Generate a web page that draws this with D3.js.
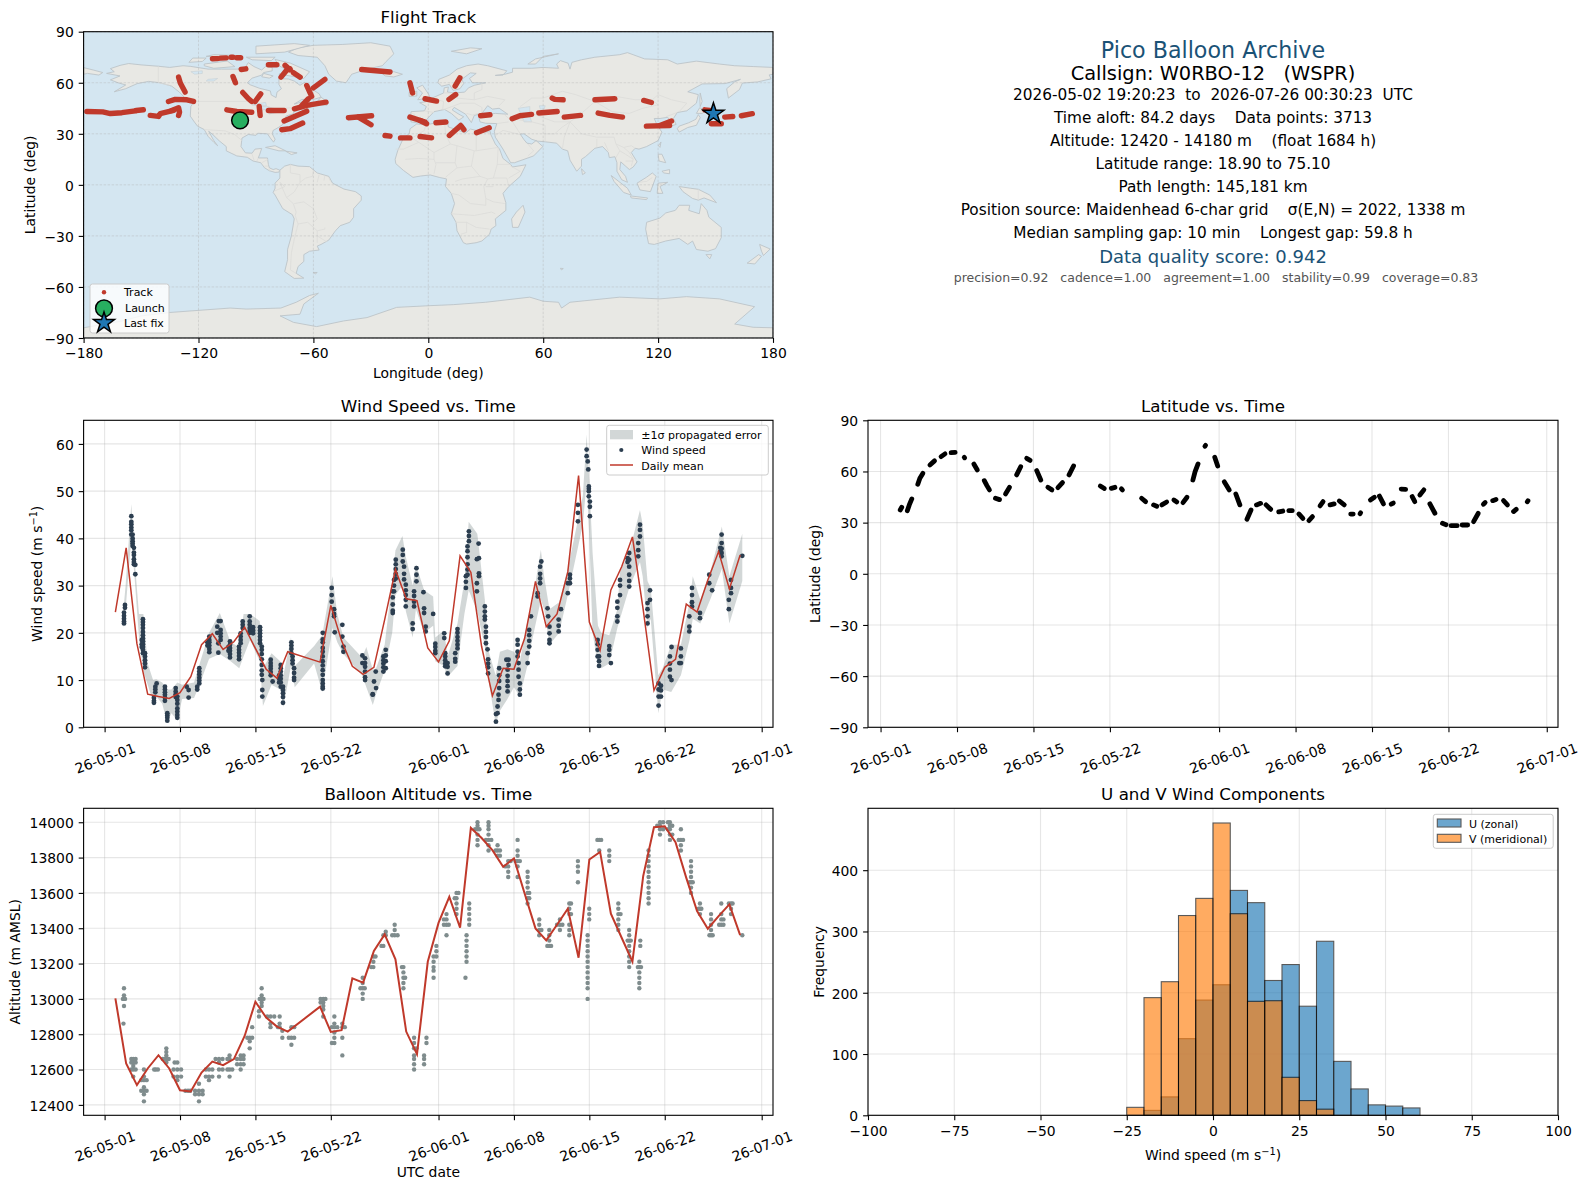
<!DOCTYPE html>
<html>
<head>
<meta charset="utf-8">
<script src="https://cdn.jsdelivr.net/npm/d3@7"></script>
<style>
	html, body { margin:0; padding:0; background:#fff; }
	svg { display:block; font-family:"DejaVu Sans", sans-serif; }
	text { white-space:pre; }
</style>
</head>
<body>
<div id="chart"></div>
<script>
//---- text ----
var infoLines = [
	'Pico Balloon Archive',
	'Callsign: W0RBO-12   (WSPR)',
	'2026-05-02 19:20:23  to  2026-07-26 00:30:23  UTC',
	'Time aloft: 84.2 days    Data points: 3713',
	'Altitude: 12420 - 14180 m    (float 1684 h)',
	'Latitude range: 18.90 to 75.10',
	'Path length: 145,181 km',
	'Position source: Maidenhead 6-char grid    σ(E,N) = 2022, 1338 m',
	'Median sampling gap: 10 min    Longest gap: 59.8 h',
	'Data quality score: 0.942',
	'precision=0.92   cadence=1.00   agreement=1.00   stability=0.99   coverage=0.83'
];
var dateTicks = ['2026-05-01','2026-05-08','2026-05-15','2026-05-22','2026-06-01','2026-06-08','2026-06-15','2026-06-22','2026-07-01'];
var lonTicks = [-180,-120,-60,0,60,120,180];
var latTicks = [-90,-60,-30,0,30,60,90];
var windTicks = [0,10,20,30,40,50,60];
var altTicks = [12400,12600,12800,13000,13200,13400,13600,13800,14000];
var histXTicks = [-100,-75,-50,-25,0,25,50,75,100];
var histYTicks = [0,100,200,300,400];

//---- map outlines, lon/lat ----
var landShapes = [
	// North and Central America
	[[-168,65.5],[-164,66.5],[-166,68.3],[-161,70.2],[-156.5,71.3],[-150,70.5],[-141,69.7],[-135,69],[-128,70],[-124,69.6],[-115,68],[-108,68],[-100,68],[-96,68.3],[-94,71.8],[-91,69.5],[-87,67.5],[-85,69.5],[-81.5,69],[-81.5,67],[-86,66],[-87,64.5],[-92,62.7],[-94.5,60],[-93,58.8],[-88,56.7],[-82.5,55.2],[-82,52.8],[-79.5,51.3],[-79,54.5],[-76.7,56.5],[-78,59],[-78,62.4],[-73,62.2],[-70,61],[-67,58.5],[-64.5,60.3],[-61.5,56.8],[-57,53.5],[-56,51.5],[-60,50.2],[-66,50.2],[-70,47.5],[-65,49],[-64.5,47],[-61,46],[-64,44.5],[-66.5,44.5],[-70,43.7],[-70.5,41.7],[-74,40.6],[-75.5,38],[-76,35.5],[-78,33.9],[-81,32],[-81.5,30],[-80,26.8],[-80.8,25.1],[-82.5,27.5],[-84,30],[-89,30.3],[-90,29.1],[-94,29.6],[-97.3,27.5],[-97.8,22.5],[-95.5,18.8],[-92,18.6],[-90.5,21],[-87,21.4],[-88,18],[-88.8,15.8],[-84,15.8],[-83.5,12],[-83,10],[-81,9],[-79.5,9.5],[-77.5,8.6],[-78,7.5],[-80,7.3],[-83,8.3],[-85.5,10],[-87.5,13],[-91.5,14],[-94.5,16.2],[-100,17],[-105.5,20],[-105.5,22.5],[-109,25.7],[-112.5,29.5],[-114.7,31.5],[-112,26],[-110,23],[-112,25],[-115,28.5],[-117,32.5],[-120.5,34.5],[-122.5,37.5],[-124.3,40.4],[-124,46],[-122.5,48.5],[-127,51],[-130,54.5],[-134,58],[-140,60],[-146,60.8],[-152,59.5],[-158,56.5],[-164,54.7],[-158,58.7],[-162,60],[-166,61.7],[-161,64]],
	// South America
	[[-77.5,8.6],[-75,11],[-72,12],[-68,11],[-62,10.7],[-58,7],[-52,5],[-50,1],[-44,-2.5],[-38,-4],[-35,-6.5],[-35,-9],[-39,-14],[-39,-19],[-41,-22],[-46,-24],[-48.5,-27],[-52,-32.5],[-56,-35],[-58,-36],[-57,-38.3],[-62,-39],[-65,-41],[-65,-45],[-68,-48],[-69,-52],[-65,-54.8],[-70,-55],[-75,-51],[-73.5,-44],[-73.5,-38],[-71.5,-30],[-70,-20],[-71,-17.5],[-76,-14],[-80,-6],[-81,-4.5],[-80,-2],[-80,1],[-77.5,4]],
	// Africa
	[[-6,35.8],[-1,35.2],[5,36.8],[10,37.3],[10.5,34],[15,32.3],[19.5,30.5],[22,32.8],[29,31],[32.5,31.2],[32.5,29.9],[35,24],[37.2,21],[39,15.5],[43,12],[44,10.5],[51,11.8],[48,5],[42,-1],[39,-5],[40.5,-10.5],[40.5,-15],[35,-20],[35.3,-24],[32.8,-26],[32,-29],[28,-33],[25,-34],[20,-34.8],[18.3,-34],[15,-27],[14.5,-22],[12,-17],[13.7,-11],[12,-5],[9,-1],[9.5,3.5],[6,4.3],[1,5.8],[-4,5.2],[-8,4.4],[-13,8.5],[-17,12.5],[-17.3,15],[-16,20],[-13,27.5],[-10,30],[-9.5,33]],
	// Eurasia
	[[-9,37],[-9.3,39],[-9,43],[-2,43.5],[-1,46],[-4.5,48.3],[-1.5,48.8],[2,51],[4,52],[8,54],[8.3,57],[10.5,57.5],[10,54.5],[14,54],[19,54.5],[21,57],[24,58.5],[30,60],[23,60],[21.5,62.5],[25,65.5],[22,65.8],[17.5,62],[18.5,59.5],[16.5,56.5],[13,55.5],[11,59],[7,58],[5,60],[5.5,62],[11,64.5],[15,68],[20,70],[26,71],[31,70],[41,67],[39,64.5],[35,64.3],[40,65],[44,66.2],[44,68.5],[54,68.5],[60,69],[68,68.5],[67,71],[69,73],[73,71.5],[74,68],[75,72],[80,73.5],[87,75],[100,76.5],[104,77.7],[113,74],[125,73.5],[130,71],[140,72.7],[152,71],[160,70],[170,69.5],[180,69],[180,65],[178,64.6],[179,62.3],[172,60.5],[164,59.8],[162.5,56],[156.7,51],[155.8,56.5],[160,60.5],[163,62],[155,59.5],[143,59.3],[135.5,54.7],[141,53],[140,48],[135,43.5],[130,42.5],[128,39],[129.4,35.5],[126.5,34.5],[126.5,37.5],[125,39.7],[121,39],[118,39],[119.5,35],[122,31],[120,26],[114,22.5],[110,21],[108,21.5],[106,19],[109,13.5],[107,10.5],[105,9],[103,11],[100.5,13.5],[100,9],[103,5],[104,1.5],[101,3],[98.5,8],[98.5,13],[97.5,16.5],[94.5,16],[94,19],[91,22.5],[87,21.5],[82,16.5],[80,15],[80,11],[77.5,8],[74,14.5],[72.8,20],[70,21],[67,24.5],[61,25.3],[57,25.7],[54,26.8],[50,30],[48,29.8],[50,26.5],[51.5,24.5],[54,24],[56.3,26],[59.8,22.5],[55,17],[45,13],[43,13],[39,21],[35,28],[34.5,31.5],[35.8,36],[30,36.2],[27,37],[26.5,39.5],[29,41],[35,42],[41.5,41.5],[37,45],[33.5,44.5],[31,46.5],[28,42],[24,40.8],[23,38],[22.5,36.6],[19.5,41.5],[13.5,45.5],[12.5,44],[16,41.5],[18.5,40],[16,38],[12,42],[8.5,44.3],[3,43],[0,39.5],[-2,36.8],[-6,36.5]],
	// Chukotka past the date line
	[[-180,68.9],[-175,67.5],[-170,66],[-172,64.5],[-178,65.5],[-180,65]],
	// Greenland
	[[-73,78],[-68,80.5],[-60,82],[-45,82.5],[-30,83.5],[-20,81.5],[-18,77],[-22,72.5],[-24,70],[-32,68],[-40,65],[-43,60],[-48,61],[-52,65],[-54,70],[-58,75],[-68,76]],
	// Arctic Canada
	[[-80,73.7],[-72,71.5],[-67,69],[-62,66.5],[-65,62.5],[-72,64],[-78,65],[-73,67],[-78,70]],
	[[-117,71],[-105,72.8],[-101,69.5],[-112,68.5],[-117,70]],
	[[-125,72],[-118,72.5],[-116,74.5],[-123,74.5]],
	[[-90,77],[-75,78],[-62,82],[-70,83],[-90,81.5]],
	[[-95,75],[-80,75],[-82,73],[-92,73.5]],
	[[-112,76.5],[-100,76],[-105,75],[-116,75.5]],
	[[-86,65.5],[-81,64],[-83,62.7],[-87,63.5]],
	// Atlantic islands
	[[-59,47.7],[-53,46.7],[-53,49],[-56,51.5]],
	[[-85,22],[-80,23],[-74.5,20],[-78,20]],
	[[-74.5,19.8],[-68.5,18.8],[-71.5,17.8]],
	[[-5.5,50],[1,51.3],[0,53.5],[-3,58.6],[-6,57],[-3,54]],
	[[-10,52],[-6,52.2],[-6,55],[-10,54.3]],
	[[-24,65.5],[-18,66.5],[-13.5,65],[-18,63.4],[-22.5,64]],
	[[12,78.5],[22,80.5],[28,80],[20,77]],
	[[52,71],[56,74],[68,77],[60,75.5],[56,71]],
	// East Asia, Indonesia, Pacific
	[[142,54],[143,49],[142,46],[141.8,50]],
	[[130,33],[131,31],[135.5,33.7],[140,35],[142,39.5],[141,41.3],[139.7,38.5],[136,36.5],[131,34.5]],
	[[140,42],[141.7,45.3],[145,43.5],[143,42]],
	[[120.2,23],[121.5,25.2],[121,22]],
	[[120,18],[122,18],[124,13],[120.5,14]],
	[[122,8],[126,9],[126,6.5],[123,7]],
	[[109,1],[114,4.5],[117,7],[119,5],[117.5,0.5],[116,-4],[110.5,-3]],
	[[95.5,5.5],[104,-2],[106,-6],[102,-4.5],[97,2]],
	[[105.5,-6.5],[114.5,-7.7],[114,-8.7],[106,-7.7]],
	[[119.5,-5],[120,1],[125,1.5],[121,-1],[122.5,-5]],
	[[131,-1],[137,-2],[141,-2.6],[147,-6],[150.5,-10.5],[144,-7.7],[141,-9],[138,-8],[133,-4]],
	[[114,-22],[113.5,-26],[115,-34.5],[118,-35],[124,-33],[131,-31.5],[135.5,-35],[138,-33],[140,-38],[146,-39],[150,-37.5],[153,-31],[153,-25],[146.5,-19],[145.5,-15],[142.5,-11],[141.5,-17],[136,-15],[136.5,-12],[131,-12],[129,-15],[124,-16.5],[121,-19.5]],
	[[145,-41],[148,-41],[147,-43.5]],
	[[173,-35],[178.5,-37.7],[175,-41.5],[174,-39]],
	[[172.5,-41],[174,-42],[170.5,-46.5],[166.5,-46]],
	[[49.5,-12],[50.5,-16],[47,-25],[44,-25],[43.5,-20],[46,-16]],
	[[80,9.5],[82,7],[80.5,6]],
	[[69,-49],[70.5,-49.2],[69.5,-50]],
	[[-60,-51.5],[-58,-51.5],[-59,-52.3]],
	// Antarctica
	[[-180,-84],[-160,-80],[-150,-77],[-135,-75],[-103.5,-72.4],[-95,-73],[-77,-72.4],[-69,-69],[-62,-65],[-57.4,-63.7],[-65,-70],[-67,-76],[-77.4,-77],[-70.4,-80.8],[-58.3,-83.3],[-44.3,-80],[-32,-78],[-16.5,-72],[0.9,-71],[13,-70.4],[30,-69],[53,-66],[60,-68.4],[68,-69],[69.6,-72.4],[74,-69],[100,-66],[120.9,-67],[134.8,-65.7],[152,-67],[170.4,-71.6],[160,-81.8],[169.6,-83.7],[180,-84],[180,-90],[-180,-90]]
];
var lakeShapes = [
	[[47,45],[53,46],[53,40],[54,37],[50,37],[49,40]],
	[[-92,47],[-85,48.5],[-84.5,46.5],[-88,46.5]],
	[[-87.5,46],[-84,46],[-81,45],[-83,43],[-86,44.5],[-87.5,42]],
	[[-79.5,43.5],[-76.5,44],[-79,42.5],[-83,41.7]],
	[[58,46.5],[61,46.5],[60.5,44.5],[58.5,44.5]],
	[[-124,66.5],[-118,67],[-118,65.5],[-122,65]],
	[[-115,62],[-110,62.5],[-112,61],[-116,61]]
];
var borderLines = [
	[[-123,49],[-95,49],[-89,48],[-83,45.5],[-79,43],[-75,45],[-70,45.5],[-67,47]],
	[[-141,69.7],[-141,60],[-135,58.5]],
	[[-117,32.5],[-106,31.7],[-101,29.5],[-97.3,26]],
	[[-92,18],[-91,14.5]],[[-88.8,15.8],[-89.5,14]],[[-83.7,15],[-87,13]],[[-83.5,11],[-85.5,11]],[[-83,9.5],[-83,8.3]],
	[[-72,12],[-72,7],[-67,6],[-67,1.5],[-70,-4.2],[-74,-7.5],[-70.5,-11],[-69,-16],[-69.5,-18]],
	[[-60,8.5],[-60.5,5],[-64,4],[-67,1.5]],[[-57,6],[-58,1.5]],[[-54,5.5],[-54.5,2.5]],[[-52,4.5],[-51,2]],
	[[-80,-3.5],[-75,-1],[-77.5,1.5],[-74,-7.5]],
	[[-69.5,-18],[-68,-23],[-70,-32],[-71.5,-40],[-72,-50],[-69,-52]],
	[[-60,-22],[-58,-20],[-60,-14],[-65,-10],[-70,-11]],[[-68,-23],[-63,-22],[-58,-27],[-54,-26],[-54,-25]],[[-58,-27],[-58,-34]],[[-58,-30],[-53,-33.5]],
	[[-8.5,27.5],[-13,27.5]],[[-5,25],[-8.5,27.5],[-2,32],[-1.5,35]],[[8.5,37],[9,30],[11.5,24]],[[11.5,24],[3,19],[-5,25]],[[25,32],[25,20],[36.5,22]],[[11.5,24],[15,23],[24,20],[25,20]],
	[[-17,21],[-13,21],[-5,25]],[[-12,15],[-5,15.5],[3,15],[3,19]],[[3,15],[4,12],[3,6.5]],[[14,13],[4,13]],[[15,23],[14,13],[15,10],[9,4.5]],[[24,20],[22.5,11],[27,5],[31,3.5],[34,4],[36,12],[36.5,22]],
	[[15,10],[22.5,11]],[[14,2],[18,3.5],[27,5]],[[12,-5],[16,-6],[22,-11],[30,-12],[30,-8],[29,-1],[31,3.5]],[[42,-1],[41,4],[34,4]],[[34,-1],[30,-1]],[[40,-11],[34,-10],[30,-8]],[[12,-17],[24,-18],[33,-16],[35,-17]],[[14,-22],[20,-22],[20,-28],[17,-29]],[[20,-22],[25,-25],[32,-26]],[[43,11],[48,8],[42,4]],[[36,12],[43,12]],
	[[-9,42],[-7,41.5],[-7,37]],[[-2,43.5],[3,42.5]],[[2,51],[8,49],[7.5,44],[13.5,46.5],[17,48],[24,48],[28,45.5],[28,42]],[[8,54],[14,54],[15,51],[24,50],[24,54],[28,56],[28,60]],[[24,50],[31,52],[40,50],[37,46.5]],[[20,42],[23,41],[26,42]],
	[[40,41],[44,37],[48,30]],[[35.8,36],[42,37]],[[35,29],[39,32],[48,29.5]],[[52,24],[55,20],[52,17]],[[46,39],[48,38],[54,37],[61,35],[61,25.5]],[[61,30],[66,30],[70,34],[74,37],[71,28],[70,21]],
	[[48,46],[54,51],[60,51],[70,55],[77,53],[87,49],[98,52],[108,50],[117,50],[120,53],[127,50],[135,48],[131,43]],
	[[54,42],[66,37],[74,37],[80,42],[87,49]],[[87,49],[96,43],[105,42],[112,45],[120,47],[117,50]],[[74,37],[80,30],[88,28],[97,28],[98,24],[102,22],[106,23],[108,21.5]],
	[[88,27],[88,22]],[[92,25],[94,20]],[[98,24],[100,20],[98,16]],[[100,20],[103,18],[107,15]],[[102,22],[105,19],[107,15],[106,11]],[[103,14],[107,14]],[[124,40],[130,42.5]],[[125,38],[129,38]],
	[[141,-2.6],[141,-9]],[[110,1.5],[114,2],[117,4.3]]
];

//---- flight track, lon/lat of each stretch ----
var trackStretches = [
	[[-178.3,43.1],[-170,42.9],[-166,41.9],[-160,42.4],[-153,43.5]],
	[[-152.5,43.7],[-148.8,44.1]],
	[[-145.2,40.8],[-140.9,40.2],[-140,41.8],[-133,43.7]],
	[[-134,43.7],[-130.4,45.3],[-129.9,42.7],[-130.4,40.8]],
	[[-135.7,49],[-132.2,50.2],[-126,50],[-122.6,49]],
	[[-130.4,63.3],[-129.5,59.8],[-127,54.5]],
	[[-112.7,74.1],[-110,74.2]],[[-108.5,74.5],[-105.5,74.6]],[[-103,75],[-102,75]],[[-100,74.7],[-98,74.7]],
	[[-97.7,67.8],[-95.3,68.2]],
	[[-102,63.7],[-100.7,60]],
	[[-96.9,54.3],[-93.9,50.6],[-92.2,49]],
	[[-90.4,49],[-87.5,53.5]],
	[[-105.2,44.1],[-100,43.1],[-92.2,42.7]],
	[[-88.3,46.1],[-87.8,40.8]],
	[[-83.5,43.7],[-75.3,43.7]],
	[[-83.5,70.6],[-79.1,70.6]],
	[[-76.9,63.3],[-74,67.3],[-72.2,68.2]],
	[[-74.8,70.2],[-72.2,67.6]],
	[[-70.4,65.9],[-66.9,63.3]],
	[[-63.5,58.4],[-60.9,52]],
	[[-60,57],[-54,62]],
	[[-69.9,44.7],[-63.5,46.7],[-53.4,48.6]],
	[[-66,46.7],[-62.6,50.6]],
	[[-75.3,37.5],[-63.5,43.3]],
	[[-76.5,32.4],[-72.2,33],[-65.6,36.3]],
	[[-34.8,67.8],[-20,66.3]],
	[[-41.7,39.4],[-29.6,40.6]],
	[[-36.5,39.8],[-29.9,35.3]],
	[[-22.6,29],[-20,28.6]],
	[[-14.5,27.6],[-9.6,27.6]],
	[[-4.3,28.4],[1.7,27.6]],
	[[-9.6,60],[-8.2,54]],
	[[-1.7,50.6],[4.3,49.2]],
	[[-9.6,39.8],[-1.7,36.9]],
	[[-4.3,37.8],[-0.9,35.9]],
	[[4,36.5],[9.2,36.9]],
	[[11,29],[16.9,34.9],[18.6,32.4]],
	[[10.8,50.2],[14.3,53.1]],
	[[14,58],[16.5,62.9]],
	[[25.2,30.6],[31.8,33.5]],
	[[27.3,40.6],[32.2,41.2]],
	[[43.8,38.8],[47.8,40.6],[53.9,41.4]],
	[[57.7,42.2],[67.3,43.1]],
	[[71,39.8],[79.5,40.8]],
	[[64.7,51],[66,50.2],[70.4,50]],
	[[87,50],[97.4,50.6]],
	[[88.7,42.2],[94.8,40.8],[101.4,39.8]],
	[[112.5,49.6],[116.5,48.4]],
	[[113.9,34.5],[126,34.9]],
	[[120.9,34.9],[127,37.5]],
	[[144.4,44.1],[147,43.7]],
	[[147.8,35.9],[153,35.9]],
	[[154.8,39.8],[159,40.2]],
	[[163.5,40.6],[169.2,41.8]]
];
var launchPoint = [-98.3,37.9];
var lastFixPoint = [148.9,41.8];

//---- wind speed: [day after May 1, m/s ...] ----
var windRows = [
	[1.8,24.3,23.6,23,22.4,22],[1.89,25.9,25.3],[2.48,44.7,43.5,43,42.3,41.7,40.8],[2.6,40.8,40,39.4,38.9,38.4],[2.72,38,37,36.5,35.6,35,34.5],[2.85,34.4,32.4],
	[3.56,22.9,22.3,21.7,21,20.2,19.5,18.8,18.2,17.6,17,16.4,15.7],[3.45,18.5,17.6,17],[3.75,15.7,15,14.2,13.5,12.7],
	[4.58,6.2,5.6,5.2],[4.71,8.6,8,7.4],[4.83,9.3],[5.6,8.6,8,7.4,6.9,6.3,5.6],[5.82,3,2.5,2,1.4],[6.6,8.3,7.6,7,6.4],[6.75,6.5,5.8,5,4,3.3,2.6,2],[7.62,8.6],[7.8,7.9,6.3],
	[8.6,8.6,8],[8.79,12.5,11.8,11.2,10.5,9.9,9.3],[9.72,19.2,18.5,18,17.3,16.6,15.9],[9.55,18,17.3],[10.46,21.3,20],[10.77,22.5,20.6,19.9,19.2,18.5],[10.6,22.5],[10.56,17.8,15.8],
	[11.64,18.2,17.5,16.8,16.2,15.5,14.8],[11.5,17,16.2],[12.48,17.1,16.4,15.8,15.1,14.4],[12.63,19.9,19.2,18.5,17.8],[12.82,22.4,21.7,21],[13.47,23.5,22.4,21.7,21,20.4,20],[13.78,21.2,20.5,19.9],
	[14.43,21.2,20.5,19.9,19.2,18.5,17.8],[14.59,17.1,16.4,15.5,14.4,13.2,12,11.1],[14.64,10,7.9,6.5],[15.42,14.3,13.6,13,12.4,11.7,11],[15.6,9.7],[16.35,13.2,12.5,11.8,11,10.3,9.5,8.6],[16.2,11,10.3,9.5],[16.56,8.6,7.9,7.2,6.4,5.2],
	[17.34,18,17.3,16.6,15.7],[17.59,12.5,11.5,10.5,10],[17.45,15,14.2,13.5],[20.25,20,18.6,18,16.8,16,15,14,13.1,12.1,11.1,10,9.3,8.6,8.2],[21.36,20.1],
	[21.08,29.5,28,26.6],[21.3,25,24,23.5],[22.07,21.7,19.2],[22.17,17.1,16],[23.93,15.2,13.6],[24.18,14.6,13.6,12.8,11.8,10.6,10],[25.17,11.8],[25.01,9.7],[25.2,8.3],[24.89,6.9,7],
	[25.88,15,14.2,13.5,12.7,11.8],[26.1,16.4,15.2,14,12.5],[26.75,28.8,27.5,26,24.7,24.2],[26.87,31.2,30,28.8],[27.03,35.5,34.5,33.5,32.5,31.5],
	[27.68,37.6,36.5,35.1],[27.8,34,32.5,31.3],[27.96,30.2,29,28,27,25.6],[28.73,28.8,27.8,26.6,25.6],[28.6,22,20.8],[28.95,33.7,32.3,30.9],[29.6,28.6],[29.66,25.2,24.2],[29.81,21.3,20.3],
	[30.5,24],[30.7,17.7,17,16.2,15.7],[31.53,19.9,18.9],[31.62,15.7,15,14.2,13.5,12.9],[31.84,13.6,12.8,11.4],[32.55,15.7,14.5,13.9],[32.76,20.8,20,19.1,18.3,17.5,16.7],
	[33.54,32,30.8,29.5],[33.69,38.3,37.3,36,34.5,33.4,32.3],[33.82,41.5,40.5,39.4],[34.56,35.6,30.5,28.8],[34.75,35.8,32.6,32],[34.72,38.9],
	[35.3,25.6,24.5,23.5,22.8],[35.4,21.3,20.2,19.1,17.8],[35.55,16.5],[35.6,14.4,13.5,12.7,11.4],[36.48,4.4,3],[36.33,2.8,1.2],[36.57,6.9,5.8],[36.63,12.5,11,9.8,8.3],
	[37.5,14.3,13.2],[37.3,14.3],[37.41,12.2,10.9,9.8,8.7,7.6],[38.34,18.5,17.5,16,15],[38.43,13.6,12.2,10.7],[38.55,9.3,8,6.9],
	[39.27,15.7,13.6],[39.42,20.6,19.5,18.3,17.1],[39.58,23.5],[40.2,28.4,27.7],[40.43,34,32.5,31.5,30.5],[40.54,35.1],[41.12,25.2],[41.18,23.5],[41.3,21.3,19.9,18.5,17.8],
	[42.15,22.8,21.5,20.3],[42.36,25],[43,30.5,28.4],[43.2,32.3,31.5,30.5],[43.94,47.1,45.4,43.6],
	[44.75,58.8,57.4],[44.85,56.3],[44.9,54.6],[44.95,51,50.5,50,48.9],[45.05,47.8,46.7,44.7],[45.77,18.5,17.6,16.4,15],[45.9,15,14,13],[46.85,17.2,16.4,15.3],[47,13.6],
	[47.6,22.4,26.6,25.3,23.5],[47.85,31.2,30,28],[48.7,36.9,35.5,34,32.3,31,29.8],[48.55,35.8,35],[49.54,39,37.5,36.2],[49.7,42.9,41.8,40.4],
	[50.4,26.3,25,23.5,22],[50.63,29,27],[51.43,4.6,9.3,8,6.5],[51.65,8.8,7.8,6.5],[52.48,15,13.5,12.2,10.7],[52.63,17,10],[53.5,16.7,15,13.6],[53.35,13.6],
	[54.28,23.5,21.3,20.3],[54.53,29.5,28,26.5,25.6],[55.27,24.2,23.1],[56.13,32.3,30.5],[56.4,29],[57.28,40.8,39,37.8,36.9,36.2],[57.15,38,37.2],[58.15,31.2,29.5,28.4],[57.95,27,25],[59.2,36.3]
];
// ±1 sigma band around the wind points
var bandDays = [1.73,1.95,2.48,2.79,3.19,3.6,4,4.5,4.8,5.35,5.8,6.2,6.75,7.2,8.3,8.76,9.7,10.7,11.7,12.5,12.9,13.5,14.4,14.7,15.5,16.3,16.6,17.3,17.65,19.45,20.2,21.15,21.6,22.17,23.9,24.3,24.9,25.2,26,26.7,27,27.65,27.97,28.6,28.9,29.66,30.5,30.7,31.5,31.85,32.76,33.4,33.8,34.6,35.3,35.6,36.3,36.7,37.4,38,38.55,39.3,39.6,40.5,40.8,41.3,42.2,43,44.4,44.75,45,45.3,45.8,46.1,46.85,47.6,47.85,48.7,49.7,49.95,50.4,50.7,51.4,51.8,52.6,53.5,54.3,54.6,55.3,56.3,57.3,58,59.2];
var bandHi = [24.5,30,47.3,35.5,24,24,13.5,10,10.2,9.5,8,8,9.5,9,9.5,13,20,24.2,18,17,24,24,22.5,12.5,15.7,14,11,19,13,17.2,19.5,32,24,19,14.8,17,12.2,12.5,17.5,31,37.5,40.5,36,30,34.5,29,27.7,19,20.5,15,22,31,43.5,41,27,16.5,11,16,16.5,16,14,23,25,37.6,32,25,26.5,33.5,49,62,52,37,21.5,20,19.5,25,33,37,46,43,31,29.5,11,12.5,17.5,17.5,26.5,32,27,33.5,42.5,32,41];
var bandLo = [21,25,40,31.5,19,11.8,9,5.4,6.5,5,1,3,1.5,6,6.2,8.7,14.5,15.5,14,12.5,15,18.5,14,4.5,9,8,4.3,13,8.5,13.5,7.5,21,18,15.5,11,8.5,4.7,7,12,20,28,30,24.5,19,25,20,21.5,14,13,10.7,13,24,29,24.5,17,10.5,0.7,3.5,6,8.5,6.5,13.5,17.5,27,25,17.5,20,28,43,52,40,20,13,12.5,13.5,21,23,29.5,35,32,21,23,3,8,7.5,11,18.5,23,22,27.5,33.5,22,31];

//---- daily means ----
var meanDays = [1,2,3,4,5,6,7,8,9,10,11,12,13,14,15,16,17,20,21,22,23,24,25,26,27,28,29,30,31,32,33,34,35,36,37,38,39,40,41,42,43,44,45,46,47,48,49,50,51,52,53,54,55,56,57,58,59];
var windMean = [24.4,38,17.7,7,6.5,6.1,7.35,10.7,17.5,19.8,16.5,18.1,21.2,16.7,12.3,10.4,16,13.8,25.8,18.3,12.9,11.2,12.7,22.8,33.4,27.2,26.8,16.8,13.85,18.3,36.3,32.8,17.1,6.7,12.5,12.3,18.9,30.9,21.3,24,32.9,53.3,22.3,16.3,29.1,34,40.3,24.9,7.8,12.7,14.4,26.1,24.4,31.2,37.2,29.3,36.5];
var altMean = [13003,12634,12512,12606,12681,12606,12483,12476,12583,12645,12625,12659,12790,12984,12894,12843,12815,12956,12813,12823,13116,13092,13271,13365,13224,12815,12687,13210,13430,13578,13403,13968,13911,13842,13748,13795,13595,13399,13331,13420,13510,13233,13789,13832,13482,13346,13211,13695,13972,13977,13887,13685,13497,13397,13469,13535,13361];

//---- latitude vs time: stretches of [day, lat] ----
var latStretches = [
	[[1.8,37.4],[1.94,39]],[[2.45,37],[2.63,40.4],[2.86,43.9]],[[3.41,52.5],[3.6,56],[3.88,58.9]],[[4.52,63.8],[4.94,66.2]],[[5.54,68.7],[5.9,70.3]],[[6.46,71],[6.83,71.2]],[[7.66,68.3],[7.7,68]],
	[[8.54,64.4],[8.86,60.9]],[[9.5,54.6],[9.74,51.7],[9.97,49.2]],[[10.52,44.3],[10.89,43.5]],[[11.44,46.8],[11.81,50.7]],[[12.46,58],[12.83,62.8]],[[13.38,67.7],[13.7,66.5]],[[14.3,60.5],[14.67,55]],[[15.32,50.7],[15.69,49.2]],[[16.24,50.5],[16.66,53.5]],[[17.26,58],[17.67,63.2]],
	[[20.12,51.5],[20.49,50]],[[21.13,50.1],[21.46,50.7]],[[22.05,49.8],[22.15,49.2]],[[23.9,44.3],[24.27,42.3]],[[25,40.4],[25.29,39.6]],[[25.75,40.4],[26.2,42.1]],[[26.86,43.3],[27.13,42.1]],[[27.69,41.7],[28.06,44.9]],
	[[28.6,55],[28.8,59.9],[29.07,64.4]],[[29.7,74.8],[29.76,75.3]],[[30.6,68.3],[30.87,63.2]],[[31.47,54],[31.93,49.2]],[[32.53,46.8],[32.9,40.4]],[[33.55,32],[33.92,37.4]],[[34.42,40.4],[34.8,41.3]],[[35.3,40.4],[35.72,37.8]],[[36.46,36.3],[36.83,36.8]],[[37.38,37],[37.7,37]],
	[[38.3,35.1],[38.67,32.5]],[[39.22,31.2],[39.55,33.5]],[[40.24,39.8],[40.52,42.3]],[[41.16,40.4],[41.53,41]],[[42,42.7],[42.46,40.4]],[[43.05,35],[43.28,35]],[[43.9,35.2],[43.96,35.8]],[[44.85,43.3],[45.22,44.9]],[[45.68,45.6],[46.05,41]],[[46.75,40.8],[46.95,41.5]],
	[[47.67,49.7],[48.08,49.5]],[[48.68,45.3],[48.92,42.3]],[[49.38,46.2],[49.75,49.2]],[[50.3,41],[50.76,35.5]],[[51.45,29.6],[51.78,28.8]],[[52.24,28.2],[52.8,28.2]],[[53.25,28.6],[53.76,28.6]],[[54.3,30.6],[54.73,35.5]],[[55.2,40.8],[55.36,41.8]],[[56.05,42.9],[56.35,43.6]],[[57.04,42.9],[57.4,40.4]],[[57.96,36.5],[58.2,37.8]],[[59.22,42.2],[59.28,42.8]]
];

//---- altitude: [day after May 1, m ...] ----
var altRows = [
	[1.8,13060,13020,13000,12960],[1.7,13000],[1.9,13000],[1.75,12860],
	[2.48,12660,12640,12600],[2.66,12660,12640,12620,12600,12560],[2.88,12660,12640,12600],
	[3.65,12600,12560,12540,12500,12480,12460,12420],[3.4,12540,12480],[3.9,12540,12480],
	[4.6,12600],[4.75,12600],[4.95,12600],
	[5.73,12720,12700,12680,12660,12640],[5.4,12660],[5.55,12660],[5.95,12660],[6.5,12640],
	[6.4,12600,12560],[6.75,12640,12600,12560,12540],[7.1,12600,12560],
	[7.5,12480],[7.74,12480],[7.95,12480],
	[8.4,12480,12460],[8.76,12520,12480,12460,12420],[9.1,12480,12460],
	[9.4,12600,12560],[9.69,12600,12560,12540],[10,12600,12560],
	[10.3,12660],[10.62,12660,12640,12600,12560],[10.95,12660,12600],
	[11.6,12680,12660,12600,12560],[11.4,12660,12600],[11.85,12600],
	[12.3,12660,12630],[12.63,12680,12660,12630,12600],[12.9,12680,12660,12630],
	[13.25,12780],[13.47,12760,12720,12780],[13.7,12840,12780],[14.33,12900,12930],
	[14.58,13060,13020,13000,12980,12960],[14.4,13000],[14.75,13000],
	[15.1,12900],[15.4,12900,12860,12840],[15.75,12900],[16.25,12900,12860,12840],[16.5,12820,12780],[16.1,12840],
	[17.34,12840,12780,12740],[17.1,12780],[17.6,12840,12780],
	[20.3,13000,12980,12960,12940,12900],[20.05,13000,12980],[20.5,13000],
	[21.33,12900,12860,12840,12810,12780,12750],[21.1,12840,12750],[21.6,12840],
	[22.07,12860,12840,12780,12680],[22.3,12840],
	[23.96,13120,13090,13060,13030,13000],[23.75,13060],[24.15,13060],
	[24.95,13240,13210,13180],[25.15,13240],[24.75,13180],
	[25.88,13360,13300],[26.1,13380,13360],[25.7,13300],
	[26.93,13420,13390,13360],[26.7,13360],[27.2,13360],
	[27.74,13180,13150,13120,13090,13060],[27.9,13120],[27.6,13180],
	[28.73,12780,12750,12720,12680,12660,12630,12600],[28.95,12720],[29.66,12680,12660,12630],[29.88,12780,12750],
	[30.54,13120,13160,13180,13210,13240],[30.8,13240,13270,13300],
	[31.74,13480,13450,13420,13360],[31.5,13420,13450],[31.95,13420],
	[32.67,13600,13570,13540,13510,13480],[32.85,13600],[32.5,13570],
	[33.85,13540,13510,13480,13450,13420],[33.6,13360,13330,13300,13270,13240,13210],[33.5,13120],
	[34.62,14000,13980,13960,13930,13900,13870],[34.4,13960],[34.8,13960],
	[35.64,14000,13980,13960,13930,13900,13870,13840],[35.4,13900],[35.9,13900],
	[36.48,13870,13840,13810],[36.3,13840],[36.7,13840,13810],
	[37.47,13780,13750,13720,13690],[37.2,13750],[37.7,13780],
	[38.34,13900,13840,13810,13780,13750,13690],[38.55,13780],[38.15,13780],
	[39.27,13720,13690,13660,13630,13600,13570,13540],[39.42,13600,13570],
	[40.35,13450,13420,13390,13360],[40.55,13390],
	[41.28,13390,13360,13330,13300],[41.1,13300],[41.45,13300],
	[42.27,13450,13420,13390],[42,13420],[42.5,13420],
	[43.14,13540,13510,13480,13420,13390,13360],[43.3,13540,13480],
	[43.94,13780,13750,13720,13660],[44.99,13510,13480,13450],
	[44.84,13360,13330,13300,13270,13240,13210,13180,13150,13120,13090,13060,13000],
	[45.75,13900],[45.92,13900,13840],[46.1,13900],[46.85,13840,13810,13780],
	[47.69,13540,13510,13480,13450,13420,13390],[47.9,13480],
	[48.7,13390,13360,13330,13300,13270,13240,13210,13180],[48.55,13330],[48.85,13330],
	[49.73,13330,13300],[49.64,13210,13180,13150,13120,13090,13060],[49.5,13180],[49.8,13180],
	[50.5,13540,13570,13600,13630,13660,13690,13720,13750,13780,13810,13840],
	[51.56,14000,13980,13960,13930],[51.3,13980],[51.85,14000,13960],
	[52.48,14000,13980,13960,13930,13900],[52.3,14000,13960],[52.7,13980,13930],
	[53.5,13960,13900,13870,13840],[53.3,13900],[53.7,13900],
	[54.44,13780,13750,13720,13690,13660,13630,13600],[54.6,13660],[54.3,13660],
	[55.27,13540,13510,13480],[55.4,13510],[55.15,13510],
	[56.3,13480,13450,13420,13390,13360],[56.15,13360],[56.45,13360],
	[57.25,13540,13480,13450,13420],[57.05,13420],[57.45,13420,13450],
	[58.15,13540,13510,13480],[57.95,13540],[58.3,13540],
	[59.2,13360]
];

//---- U / V histogram, 5 m/s bins from -100 to 100 ----
var binEdges = d3.range(-100, 100, 5);
var histU = [0,0,0,0,0,0,0,0,0,0,0,0,0,0,0,0,8,30,125,188,213,367,347,220,246,178,284,88,43,17,15,12,0,0,0,0,0,0,0,0];
var histV = [0,0,0,0,0,0,0,0,0,0,0,0,0,0,0,13,192,218,326,354,477,329,186,187,62,24,10,0,0,0,0,0,0,0,0,0,0,0,0,0];
var binWidth = 5;

//---- layout ----
var BOX = {
	map  : {l:83.6, r:773, t:31.7,  b:338},
	wind : {l:83.6, r:773, t:420.3, b:727.3},
	lat  : {l:868,  r:1558,t:420.3, b:727.3},
	alt  : {l:83.6, r:773, t:808.3, b:1115.3},
	hist : {l:868,  r:1558,t:808.3, b:1115.3}
};
var COLOR = {track:'#c0392b', wind:'#2c3e50', alt:'#7f8c8d', band:'#7f8c8d', head:'#1a5276', grid:'#b0b0b0'};
var FS = {tick:13.9, label:13.9, title:16.7, legend:11};

var dayDate = function(d){ return new Date(Date.UTC(2026,4,1) + d * 864e5); };
var parseDay = d3.utcParse('%Y-%m-%d');

var svg = d3.select('#chart').append('svg').attr('width',1587).attr('height',1189);
var defs = svg.append('defs');

function drawFrame(box){
	svg.append('rect').attr('x',box.l).attr('y',box.t)
		.attr('width',box.r-box.l).attr('height',box.b-box.t)
		.attr('fill','none').attr('stroke','#000').attr('stroke-width',1.1);
}
function drawGrid(box, x, y, xt, yt, dash){
	var g = svg.append('g').attr('stroke',COLOR.grid).attr('stroke-opacity',dash?0.55:0.32).attr('stroke-width',dash?0.7:1.1);
	if(dash) g.attr('stroke-dasharray',dash);
	g.selectAll('line.v').data(xt).enter().append('line').attr('class','v')
		.attr('x1',x).attr('x2',x).attr('y1',box.t).attr('y2',box.b);
	g.selectAll('line.h').data(yt).enter().append('line').attr('class','h')
		.attr('x1',box.l).attr('x2',box.r).attr('y1',y).attr('y2',y);
}
function styleAxis(g){
	g.select('.domain').remove();
	g.selectAll('line').attr('stroke','#000').attr('stroke-width',1.1);
	g.selectAll('text').attr('fill','#000').attr('font-size',FS.tick).attr('font-family','"DejaVu Sans"');
}
function drawAxes(box, x, y, xt, yt, xfmt, yfmt, rotate){
	var ax = d3.axisBottom(x).tickValues(xt).tickSize(4.9).tickPadding(5.6).tickSizeOuter(0);
	if(xfmt) ax.tickFormat(xfmt);
	var gx = svg.append('g').attr('transform','translate(0,'+box.b+')').call(ax);
	styleAxis(gx);
	if(rotate){
		gx.selectAll('text').attr('y',0).attr('dy','0.35em').attr('text-anchor','middle')
			.attr('transform','translate(0,31) rotate(-20)');
	}
	var ay = d3.axisLeft(y).tickValues(yt).tickSize(4.9).tickPadding(4.9).tickSizeOuter(0);
	if(yfmt) ay.tickFormat(yfmt);
	var gy = svg.append('g').attr('transform','translate('+box.l+',0)').call(ay);
	styleAxis(gy);
	gy.selectAll('text').attr('dy','0.38em');
}
function title(box, s){
	svg.append('text').attr('x',(box.l+box.r)/2).attr('y',box.t-8.3)
		.attr('text-anchor','middle').attr('font-size',FS.title).attr('fill','#000').text(s);
}
function yLabel(px, box, s){
	var cy = (box.t+box.b)/2;
	return svg.append('text').attr('transform','translate('+px+','+cy+') rotate(-90)')
		.attr('text-anchor','middle').attr('dy','0.35em').attr('font-size',FS.label).attr('fill','#000').text(s);
}
function xLabel(box, py, s){
	return svg.append('text').attr('x',(box.l+box.r)/2).attr('y',py)
		.attr('text-anchor','middle').attr('dy','0.35em').attr('font-size',FS.label).attr('fill','#000').text(s);
}
function unitText(t, pre){
	// m s^-1 with a raised exponent
	t.text(null);
	t.append('tspan').text(pre+' (m s');
	t.append('tspan').attr('dy',-5).attr('font-size',9.8).text('−1');
	t.append('tspan').attr('dy',5).text(')');
}
function legendBox(x, y, w, h){
	svg.append('rect').attr('x',x).attr('y',y).attr('width',w).attr('height',h).attr('rx',2.5)
		.attr('fill','#fff').attr('fill-opacity',0.8).attr('stroke','#ccc').attr('stroke-width',1);
}
function legendText(x, y, s){
	svg.append('text').attr('x',x).attr('y',y).attr('dy','0.35em').attr('font-size',FS.legend).attr('fill','#000').text(s);
}
function flatRows(rows){
	var out = [];
	rows.forEach(function(r){
		for(var i=1;i<r.length;i++) out.push([r[0], r[i]]);
	});
	return out;
}
function clipTo(id, box){
	defs.append('clipPath').attr('id',id).append('rect')
		.attr('x',box.l).attr('y',box.t).attr('width',box.r-box.l).attr('height',box.b-box.t);
}

//---- flight track map ----
function drawMap(){
	var box = BOX.map;
	var x = d3.scaleLinear().domain([-180,180]).range([box.l,box.r]);
	var y = d3.scaleLinear().domain([-90,90]).range([box.b,box.t]);
	var path = d3.line().x(function(d){return x(d[0]);}).y(function(d){return y(d[1]);});
	clipTo('mapClip', box);
	var g = svg.append('g').attr('clip-path','url(#mapClip)');
	g.append('rect').attr('x',box.l).attr('y',box.t).attr('width',box.r-box.l).attr('height',box.b-box.t).attr('fill','#d4e6f1');
	g.selectAll('path.land').data(landShapes).enter().append('path').attr('class','land')
		.attr('d',function(d){return path(d)+'Z';})
		.attr('fill','#e8e8e4').attr('stroke','#bcc4c8').attr('stroke-width',0.9).attr('stroke-linejoin','round');
	g.selectAll('path.lake').data(lakeShapes).enter().append('path').attr('class','lake')
		.attr('d',function(d){return path(d)+'Z';})
		.attr('fill','#d4e6f1').attr('stroke','#c8d0d4').attr('stroke-width',0.6);
	g.selectAll('path.border').data(borderLines).enter().append('path').attr('class','border')
		.attr('d',path).attr('fill','none').attr('stroke','#dcdcd9').attr('stroke-width',0.8);
	drawGrid(box, x, y, lonTicks, latTicks, '2.5,1.5');
	var gt = svg.append('g').attr('clip-path','url(#mapClip)');
	gt.selectAll('path.track').data(trackStretches).enter().append('path').attr('class','track')
		.attr('d',path).attr('fill','none').attr('stroke',COLOR.track).attr('stroke-width',5.4)
		.attr('stroke-linecap','round').attr('stroke-linejoin','round');
	gt.append('circle').attr('cx',x(launchPoint[0])).attr('cy',y(launchPoint[1])).attr('r',8.4)
		.attr('fill','#27ae60').attr('stroke','#000').attr('stroke-width',1.5);
	var star = d3.symbol().type(d3.symbolStar).size(135);
	gt.append('path').attr('d',star()).attr('transform','translate('+x(lastFixPoint[0])+','+y(lastFixPoint[1])+')')
		.attr('fill','#1f77b4').attr('stroke','#000').attr('stroke-width',1.5);
	drawFrame(box);
	drawAxes(box, x, y, lonTicks, latTicks);
	title(box,'Flight Track');
	yLabel(30, box,'Latitude (deg)');
	xLabel(box, 373,'Longitude (deg)');
	// legend
	legendBox(90,284,79,49);
	svg.append('circle').attr('cx',104).attr('cy',292.3).attr('r',2.2).attr('fill',COLOR.track);
	legendText(124,292.3,'Track');
	svg.append('circle').attr('cx',104).attr('cy',308.3).attr('r',8.4).attr('fill','#27ae60').attr('stroke','#000').attr('stroke-width',1.5);
	legendText(125,308.3,'Launch');
	svg.append('path').attr('d',star()).attr('transform','translate(104,323)').attr('fill','#1f77b4').attr('stroke','#000').attr('stroke-width',1.5);
	legendText(124,323,'Last fix');
}

//---- info text ----
function drawInfo(){
	var cx = 1213;
	var ys = [50,73.3,94.3,117.7,140.3,163.7,186.7,209.7,232.7,256.7,277.3];
	var xs = [0,0,0,0,0,0,0,0,0,0,3];
	var sizes = [22.2,19.4,15.3,15.3,15.3,15.3,15.3,15.3,15.3,18,12.5];
	var fills = [COLOR.head,'#000','#000','#000','#000','#000','#000','#000','#000',COLOR.head,'#555'];
	svg.append('g').selectAll('text').data(infoLines).enter().append('text')
		.attr('x',function(d,i){return cx+xs[i];}).attr('y',function(d,i){return ys[i];}).attr('dy','0.35em')
		.attr('text-anchor','middle')
		.attr('font-size',function(d,i){return sizes[i];})
		.attr('fill',function(d,i){return fills[i];})
		.text(function(d){return d;});
}

var dateFmt = d3.utcFormat('%y-%m-%d');
var dateVals = dateTicks.map(parseDay);

//---- wind speed ----
function drawWind(){
	var box = BOX.wind;
	var x = d3.scaleUtc().domain([dayDate(-1.95),dayDate(62.05)]).range([box.l,box.r]);
	var y = d3.scaleLinear().domain([0,65]).range([box.b,box.t]);
	drawGrid(box, x, y, dateVals, windTicks);
	clipTo('windClip', box);
	var g = svg.append('g').attr('clip-path','url(#windClip)');
	var area = d3.area().x(function(d,i){return x(dayDate(bandDays[i]));})
		.y0(function(d,i){return y(bandLo[i]);}).y1(function(d){return y(d);});
	g.append('path').datum(bandHi).attr('d',area).attr('fill',COLOR.band).attr('fill-opacity',0.35);
	g.selectAll('circle').data(flatRows(windRows)).enter().append('circle')
		.attr('cx',function(d){return x(dayDate(d[0]));}).attr('cy',function(d){return y(d[1]);})
		.attr('r',2.4).attr('fill',COLOR.wind);
	var line = d3.line().x(function(d,i){return x(dayDate(meanDays[i]));}).y(function(d){return y(d);});
	g.append('path').datum(windMean).attr('d',line).attr('fill','none').attr('stroke',COLOR.track).attr('stroke-width',1.5);
	drawFrame(box);
	drawAxes(box, x, y, dateVals, windTicks, dateFmt, null, true);
	title(box,'Wind Speed vs. Time');
	unitText(yLabel(37.5, box,''),'Wind speed');
	// legend
	legendBox(606.7,425.3,161.6,49.7);
	svg.append('rect').attr('x',610).attr('y',430).attr('width',23).attr('height',9.3).attr('fill',COLOR.band).attr('fill-opacity',0.35);
	legendText(641.3,435,'±1σ propagated error');
	svg.append('circle').attr('cx',621.3).attr('cy',450).attr('r',2.1).attr('fill',COLOR.wind);
	legendText(641.3,450,'Wind speed');
	svg.append('line').attr('x1',610).attr('x2',633).attr('y1',465).attr('y2',465).attr('stroke',COLOR.track).attr('stroke-width',1.5);
	legendText(641.3,465.7,'Daily mean');
}

//---- latitude vs time ----
function drawLat(){
	var box = BOX.lat;
	var x = d3.scaleUtc().domain([dayDate(-1.15),dayDate(62.03)]).range([box.l,box.r]);
	var y = d3.scaleLinear().domain([-90,90]).range([box.b,box.t]);
	drawGrid(box, x, y, dateVals, latTicks);
	var line = d3.line().x(function(d){return x(dayDate(d[0]));}).y(function(d){return y(d[1]);});
	svg.append('g').selectAll('path').data(latStretches).enter().append('path')
		.attr('d',line).attr('fill','none').attr('stroke','#000').attr('stroke-width',4.8)
		.attr('stroke-linecap','round').attr('stroke-linejoin','round');
	drawFrame(box);
	drawAxes(box, x, y, dateVals, latTicks, dateFmt, null, true);
	title(box,'Latitude vs. Time');
	yLabel(815, box,'Latitude (deg)');
}

//---- altitude ----
function drawAlt(){
	var box = BOX.alt;
	var x = d3.scaleUtc().domain([dayDate(-1.95),dayDate(62.05)]).range([box.l,box.r]);
	var y = d3.scaleLinear().domain([12341,14079]).range([box.b,box.t]);
	drawGrid(box, x, y, dateVals, altTicks);
	var g = svg.append('g');
	g.selectAll('circle').data(flatRows(altRows)).enter().append('circle')
		.attr('cx',function(d){return x(dayDate(d[0]));}).attr('cy',function(d){return y(d[1]);})
		.attr('r',2.2).attr('fill',COLOR.alt);
	var line = d3.line().x(function(d,i){return x(dayDate(meanDays[i]));}).y(function(d){return y(d);});
	g.append('path').datum(altMean).attr('d',line).attr('fill','none').attr('stroke',COLOR.track).attr('stroke-width',2);
	drawFrame(box);
	drawAxes(box, x, y, dateVals, altTicks, dateFmt, d3.format('d'), true);
	title(box,'Balloon Altitude vs. Time');
	yLabel(15, box,'Altitude (m AMSL)');
	xLabel(box, 1172,'UTC date');
}

//---- U / V histogram ----
function drawHist(){
	var box = BOX.hist;
	var x = d3.scaleLinear().domain([-100,100]).range([box.l,box.r]);
	var y = d3.scaleLinear().domain([0,501]).range([box.b,box.t]);
	drawGrid(box, x, y, histXTicks, histYTicks);
	function bars(vals, color){
		svg.append('g').selectAll('rect').data(vals).enter().append('rect')
			.attr('x',function(d,i){return x(binEdges[i]);})
			.attr('width',function(d,i){return x(binEdges[i]+binWidth)-x(binEdges[i]);})
			.attr('y',function(d){return y(d);})
			.attr('height',function(d){return y(0)-y(d);})
			.attr('fill',color).attr('stroke','#000').attr('stroke-width',1.1).attr('opacity',0.65);
	}
	bars(histU,'#1f77b4');
	bars(histV,'#ff7f0e');
	drawFrame(box);
	drawAxes(box, x, y, histXTicks, histYTicks);
	title(box,'U and V Wind Components');
	yLabel(819, box,'Frequency');
	unitText(xLabel(box, 1155,''),'Wind speed');
	// legend
	legendBox(1433.3,814.3,119.9,34);
	[['#1f77b4',819,824,'U (zonal)'],['#ff7f0e',834.3,839,'V (meridional)']].forEach(function(e){
		svg.append('rect').attr('x',1437.3).attr('y',e[1]).attr('width',23.7).attr('height',8)
			.attr('fill',e[0]).attr('stroke','#000').attr('stroke-width',1.1).attr('opacity',0.65);
		legendText(1469,e[2],e[3]);
	});
}

drawMap();
drawInfo();
drawWind();
drawLat();
drawAlt();
drawHist();
</script>
</body>
</html>
